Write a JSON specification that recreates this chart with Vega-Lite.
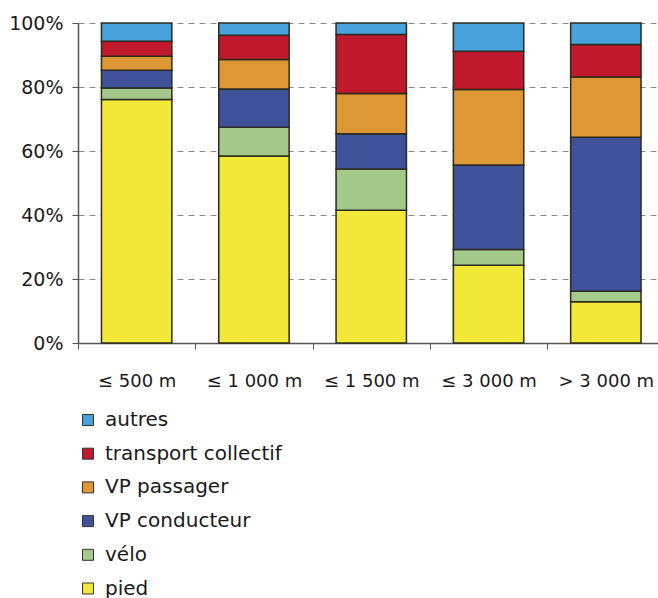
{
  "$schema": "https://vega.github.io/schema/vega-lite/v6.json",
  "autosize": {"type": "none"},
  "width": 580,
  "height": 320,
  "padding": {"left": 78, "top": 23, "right": 0, "bottom": 255},
  "background": "white",
  "config": {
    "font": "DejaVu Sans",
    "view": {"stroke": null}
  },
  "data": {
    "values": [
      {"dist": "≤ 500 m", "mode": "pied", "ord": 1, "pct": 76.1},
      {"dist": "≤ 500 m", "mode": "vélo", "ord": 2, "pct": 3.6},
      {"dist": "≤ 500 m", "mode": "VP conducteur", "ord": 3, "pct": 5.5},
      {"dist": "≤ 500 m", "mode": "VP passager", "ord": 4, "pct": 4.4},
      {"dist": "≤ 500 m", "mode": "transport collectif", "ord": 5, "pct": 4.7},
      {"dist": "≤ 500 m", "mode": "autres", "ord": 6, "pct": 5.7},
      {"dist": "≤ 1 000 m", "mode": "pied", "ord": 1, "pct": 58.4},
      {"dist": "≤ 1 000 m", "mode": "vélo", "ord": 2, "pct": 9.0},
      {"dist": "≤ 1 000 m", "mode": "VP conducteur", "ord": 3, "pct": 12.0},
      {"dist": "≤ 1 000 m", "mode": "VP passager", "ord": 4, "pct": 9.2},
      {"dist": "≤ 1 000 m", "mode": "transport collectif", "ord": 5, "pct": 7.6},
      {"dist": "≤ 1 000 m", "mode": "autres", "ord": 6, "pct": 3.8},
      {"dist": "≤ 1 500 m", "mode": "pied", "ord": 1, "pct": 41.5},
      {"dist": "≤ 1 500 m", "mode": "vélo", "ord": 2, "pct": 12.9},
      {"dist": "≤ 1 500 m", "mode": "VP conducteur", "ord": 3, "pct": 11.0},
      {"dist": "≤ 1 500 m", "mode": "VP passager", "ord": 4, "pct": 12.6},
      {"dist": "≤ 1 500 m", "mode": "transport collectif", "ord": 5, "pct": 18.4},
      {"dist": "≤ 1 500 m", "mode": "autres", "ord": 6, "pct": 3.6},
      {"dist": "≤ 3 000 m", "mode": "pied", "ord": 1, "pct": 24.3},
      {"dist": "≤ 3 000 m", "mode": "vélo", "ord": 2, "pct": 4.9},
      {"dist": "≤ 3 000 m", "mode": "VP conducteur", "ord": 3, "pct": 26.4},
      {"dist": "≤ 3 000 m", "mode": "VP passager", "ord": 4, "pct": 23.6},
      {"dist": "≤ 3 000 m", "mode": "transport collectif", "ord": 5, "pct": 12.0},
      {"dist": "≤ 3 000 m", "mode": "autres", "ord": 6, "pct": 8.8},
      {"dist": "> 3 000 m", "mode": "pied", "ord": 1, "pct": 12.9},
      {"dist": "> 3 000 m", "mode": "vélo", "ord": 2, "pct": 3.3},
      {"dist": "> 3 000 m", "mode": "VP conducteur", "ord": 3, "pct": 48.1},
      {"dist": "> 3 000 m", "mode": "VP passager", "ord": 4, "pct": 18.8},
      {"dist": "> 3 000 m", "mode": "transport collectif", "ord": 5, "pct": 10.2},
      {"dist": "> 3 000 m", "mode": "autres", "ord": 6, "pct": 6.7}
    ]
  },
  "mark": {"type": "bar", "width": {"band": 0.6}, "stroke": "#2b2b1e", "strokeWidth": 1.5},
  "encoding": {
    "x": {
      "field": "dist",
      "type": "nominal",
      "sort": null,
      "scale": {"paddingInner": 0, "paddingOuter": 0, "range": [0, 586.5]},
      "axis": {
        "title": null,
        "labelAngle": 0,
        "labelFontSize": 18,
        "labelColor": "#1a1a1a",
        "labelPadding": 23,
        "tickBand": "extent",
        "tickSize": 6,
        "tickColor": "#555",
        "domainColor": "#555",
        "domainWidth": 1.5,
        "grid": false
      }
    },
    "y": {
      "field": "pct",
      "type": "quantitative",
      "stack": "zero",
      "scale": {"domain": [0, 100], "nice": false},
      "axis": {
        "title": null,
        "values": [0, 20, 40, 60, 80, 100],
        "labelExpr": "datum.value + '%'",
        "labelFontSize": 19,
        "labelColor": "#1a1a1a",
        "labelPadding": 9,
        "tickSize": 6,
        "tickColor": "#555",
        "domainColor": "#555",
        "domainWidth": 1.5,
        "grid": true,
        "gridColor": "#888",
        "gridDash": [6, 5],
        "gridWidth": 1
      }
    },
    "color": {
      "field": "mode",
      "type": "nominal",
      "scale": {
        "domain": ["autres", "transport collectif", "VP passager", "VP conducteur", "vélo", "pied"],
        "range": ["#47a2dc", "#c0192b", "#dd9735", "#3f5199", "#a4c98b", "#f1e838"]
      },
      "legend": {
        "title": null,
        "orient": "none",
        "legendX": 0,
        "legendY": 387,
        "symbolType": "square",
        "symbolSize": 121,
        "symbolStrokeColor": "#333",
        "symbolStrokeWidth": 1,
        "labelFontSize": 20,
        "labelColor": "#1a1a1a",
        "labelOffset": 7,
        "labelLimit": 0,
        "rowPadding": 13.7
      }
    },
    "order": {"field": "ord", "type": "quantitative"}
  }
}
